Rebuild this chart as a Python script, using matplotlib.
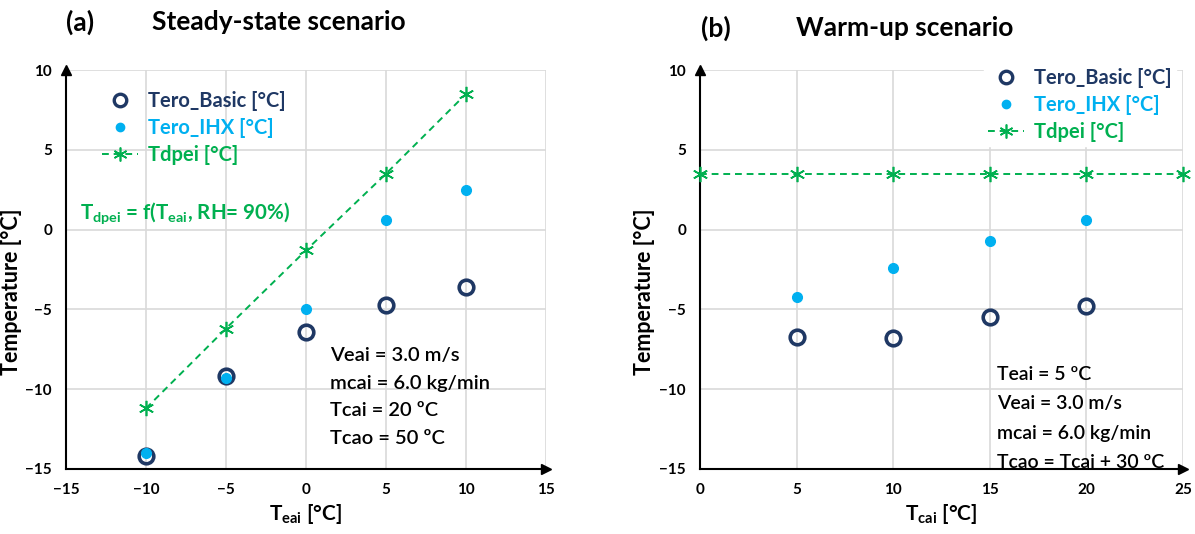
import matplotlib
matplotlib.use("Agg")
import matplotlib.pyplot as plt
from matplotlib.lines import Line2D

plt.rcParams['font.family'] = ['Lato', 'DejaVu Sans']
plt.rcParams['mathtext.default'] = 'regular'

# ---- data ----
teai = [-10, -5, 0, 5, 10]
a_basic = [-14.2, -9.2, -6.4, -4.7, -3.6]
a_ihx = [-14.0, -9.3, -5.0, 0.6, 2.5]
a_tdpei = [-11.2, -6.2, -1.3, 3.5, 8.5]

tcai = [5, 10, 15, 20]
b_basic = [-6.7, -6.8, -5.5, -4.8]
b_ihx = [-4.2, -2.4, -0.7, 0.6]
tcai_dp = [0, 5, 10, 15, 20, 25]
b_tdpei = [3.5, 3.5, 3.5, 3.5, 3.5, 3.5]

a_xticks = [-15, -10, -5, 0, 5, 10, 15]
b_xticks = [0, 5, 10, 15, 20, 25]
yticks = [-15, -10, -5, 0, 5, 10]

C_BASIC = '#1F3864'
C_IHX = '#00B0F0'
C_DP = '#00B050'

W, H = 1195, 534
fig = plt.figure(figsize=(W/100, H/100), dpi=100)

def px_axes(x0, x1, y0, y1):
    return fig.add_axes([x0/W, 1 - y1/H, (x1-x0)/W, (y1-y0)/H])

axA = px_axes(66, 546, 70, 469)
axB = px_axes(700, 1183, 70, 469)

def style(ax, xt, xlim, ylab_x):
    ax.set_xlim(*xlim)
    ax.set_ylim(-15, 10)
    ax.set_xticks(xt)
    ax.set_yticks(yticks)
    ax.grid(True, color='#d9d9d9', lw=1.2, zorder=0)
    ax.set_axisbelow(True)
    for s in ['top', 'right']:
        ax.spines[s].set_visible(False)
    ax.spines['left'].set_linewidth(1.5)
    ax.spines['bottom'].set_linewidth(1.5)
    ax.tick_params(length=0, labelsize=11, pad=10)
    for lab in ax.get_xticklabels() + ax.get_yticklabels():
        lab.set_fontweight('bold')
    ax.plot(1, 0, '>', color='black', ms=7, transform=ax.transAxes, clip_on=False, zorder=6)
    ax.plot(0, 1, '^', color='black', ms=7, transform=ax.transAxes, clip_on=False, zorder=6)
    ax.set_ylabel('Temperature [°C]', fontsize=15.5, fontweight='bold')
    ax.yaxis.set_label_coords(ylab_x/W, 1 - 292/H, transform=fig.transFigure)

def draw(ax, xb, basic, ihx, xd, dp):
    ax.plot(xd, dp, ls='--', dashes=(3.5, 2.5), color=C_DP, lw=1.4, marker=(6, 2, 0), ms=11, mew=1.2,
            zorder=3, clip_on=False)
    ax.plot(xb, basic, ls='none', marker='o', mfc='none', mec=C_BASIC, ms=10.5, mew=2.6, zorder=4)
    ax.plot(xb, ihx, ls='none', marker='o', color=C_IHX, ms=7, zorder=5)

style(axA, a_xticks, (-15, 15), 22)
style(axB, b_xticks, (0, 25), 655)
draw(axA, teai, a_basic, a_ihx, teai, a_tdpei)
draw(axB, tcai, b_basic, b_ihx, tcai_dp, b_tdpei)

axA.set_xlabel('T$_{eai}$ [°C]', fontsize=15, fontweight='bold', labelpad=4)
axB.set_xlabel('T$_{cai}$ [°C]', fontsize=15, fontweight='bold', labelpad=4)

handles = [
    Line2D([], [], ls='none', marker='o', mfc='none', mec=C_BASIC, ms=9, mew=2.4),
    Line2D([], [], ls='none', marker='o', color=C_IHX, ms=6),
    Line2D([], [], ls='--', dashes=(3.5, 2.5), color=C_DP, lw=1.4, marker=(6, 2, 0), ms=10, mew=1.2),
]
labels = ['Tero_Basic [°C]', 'Tero_IHX [°C]', 'Tdpei [°C]']
colors = [C_BASIC, C_IHX, C_DP]

def legend(ax, x, y, white):
    lg = ax.legend(handles, labels, loc='upper left', bbox_to_anchor=(x/W, 1 - y/H),
                   bbox_transform=fig.transFigure, frameon=white, fontsize=14.5,
                   handlelength=1.8, handletextpad=0.5, labelspacing=0.35, borderpad=0.2)
    for t, c in zip(lg.get_texts(), colors):
        t.set_color(c)
        t.set_fontweight('bold')
    if white:
        lg.get_frame().set_edgecolor('white')
        lg.get_frame().set_facecolor('white')
        lg.get_frame().set_alpha(1)
        lg.get_frame().set_boxstyle('square', pad=0)
    lg.set_zorder(7)
    return lg

legend(axA, 88, 77, False)
legend(axB, 974, 54, True)

# titles
fig.text(80/W, 1 - 22/H, '(a)', fontsize=19, fontweight='bold', va='center', ha='center')
fig.text(152/W, 1 - 22/H, 'Steady-state scenario', fontsize=19, fontweight='bold', va='center', ha='left')
fig.text(716/W, 1 - 28/H, '(b)', fontsize=19, fontweight='bold', va='center', ha='center')
fig.text(796/W, 1 - 28/H, 'Warm-up scenario', fontsize=19, fontweight='bold', va='center', ha='left')

# annotations
fig.text(80/W, 1 - 213/H, 'T$_{dpei}$ = f(T$_{eai}$, RH= 90%)', fontsize=14.8, fontweight='bold',
         color=C_DP, va='center', ha='left')
for i, s in enumerate(['Veai = 3.0 m/s', 'mcai = 6.0 kg/min', 'Tcai = 20 ºC', 'Tcao = 50 ºC']):
    fig.text(330/W, 1 - (355 + 28*i)/H, s, fontsize=14.5, fontweight='semibold', va='center', ha='left')
for i, s in enumerate(['Teai = 5 ºC', 'Veai = 3.0 m/s', 'mcai = 6.0 kg/min', 'Tcao = Tcai + 30 ºC']):
    fig.text(997/W, 1 - (374 + 29.5*i)/H, s, fontsize=14, fontweight='semibold', va='center', ha='left')

fig.savefig('out.png', dpi=100)
